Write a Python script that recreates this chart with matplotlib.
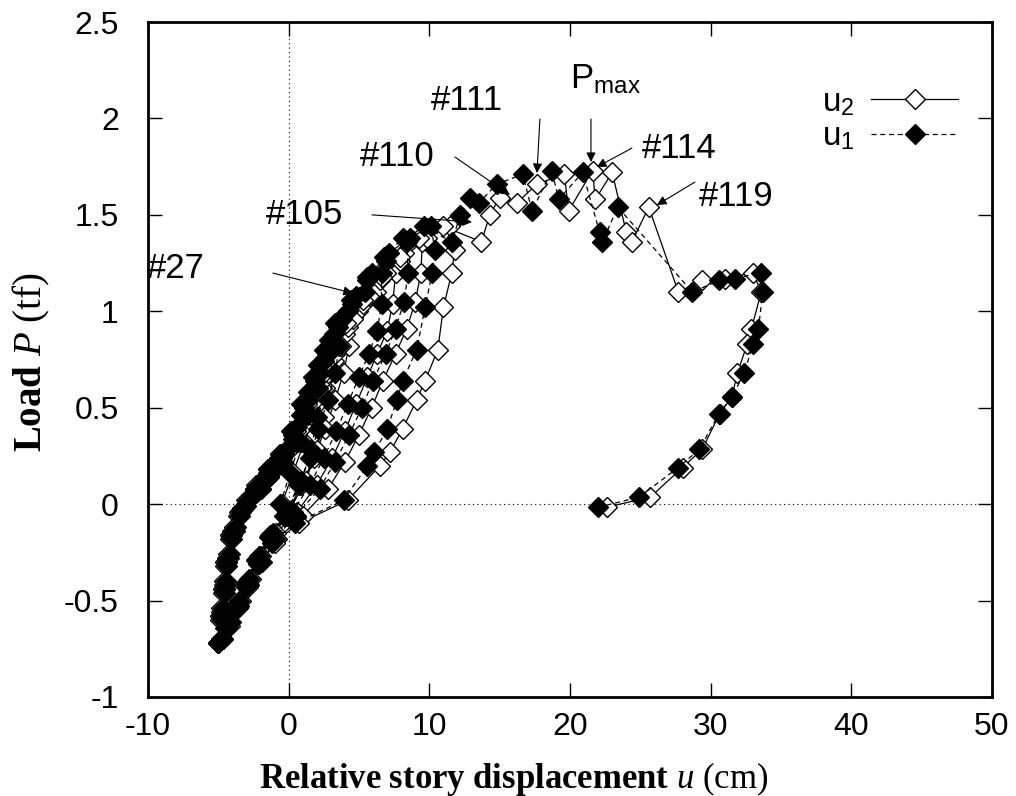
import matplotlib
matplotlib.use("Agg")
import matplotlib.pyplot as plt

plt.rcParams['font.family'] = ['Liberation Sans', 'DejaVu Sans']
plt.rcParams['axes.unicode_minus'] = False
plt.rcParams['mathtext.fontset'] = 'custom'
plt.rcParams['mathtext.rm'] = 'Liberation Sans'
plt.rcParams['mathtext.it'] = 'Liberation Serif:italic'
plt.rcParams['mathtext.bf'] = 'Liberation Serif:bold'

# ---------------- data (load P [tf], displacements u2 / u1 [cm]) ----------------
load_c1 = [0.00, 0.16, 0.32, 0.46, 0.60, 0.45, 0.28, 0.12, -0.04, -0.16, -0.29, -0.41, -0.52, -0.63, -0.72]
u2_c1 = [-0.5, 0.3, 1.1, 1.8, 2.6, 2.5, 2.0, 1.2, 0.0, -1.2, -2.2, -2.9, -3.6, -4.3, -5.0]
u1_c1 = [-0.6, 0.1, 0.8, 1.4, 2.1, 2.0, 1.6, 0.9, -0.1, -1.3, -2.3, -3.0, -3.7, -4.4, -5.0]

load_c2 = [-0.60, -0.46, -0.32, -0.18, -0.06, 0.02, 0.10, 0.18, 0.26, 0.34, 0.46, 0.58, 0.72, 0.85, 0.97,
           0.82, 0.68, 0.54, 0.39, 0.24, 0.10, -0.06, -0.17, -0.29, -0.41, -0.52, -0.62, -0.70]
u2_c2 = [-4.9, -4.7, -4.5, -4.2, -3.6, -3.0, -2.3, -1.5, -0.6, 0.4, 1.1, 1.8, 2.6, 3.5, 4.6,
         4.3, 3.9, 3.3, 2.6, 1.8, 0.9, -0.2, -1.3, -2.2, -2.9, -3.6, -4.3, -4.8]
u1_c2 = [-4.75, -4.55, -4.35, -4.05, -3.45, -2.9, -2.2, -1.5, -0.6, 0.3, 0.9, 1.4, 2.1, 2.9, 3.8,
         3.6, 3.3, 2.8, 2.1, 1.5, 0.7, -0.3, -1.4, -2.3, -3.0, -3.7, -4.4, -4.8]

load_c3 = [-0.56, -0.42, -0.28, -0.14, -0.02, 0.06, 0.14, 0.22, 0.32, 0.46, 0.60, 0.74, 0.88, 1.00, 1.10,
           1.20, 1.04, 0.90, 0.78, 0.66, 0.52, 0.38, 0.24, 0.10, -0.04, -0.15, -0.27, -0.39, -0.50, -0.61, -0.71]
u2_c3 = [-4.8, -4.6, -4.4, -4.0, -3.3, -2.4, -1.4, -0.4, 0.9, 1.6, 2.4, 3.2, 4.0, 4.9, 6.2,
         7.6, 7.4, 7.0, 6.3, 5.6, 4.8, 4.0, 3.1, 2.0, 0.6, -0.9, -2.0, -2.7, -3.4, -4.1, -4.9]
u1_c3 = [-4.65, -4.45, -4.25, -3.85, -3.2, -2.3, -1.4, -0.5, 0.6, 1.2, 1.8, 2.5, 3.2, 4.2, 5.4,
         6.6, 6.6, 6.3, 5.7, 5.0, 4.2, 3.4, 2.5, 1.5, 0.3, -1.1, -2.1, -2.8, -3.5, -4.2, -4.9]

load_c4 = [-0.58, -0.44, -0.30, -0.16, -0.04, 0.05, 0.14, 0.24, 0.36, 0.50, 0.64, 0.78, 0.92, 1.04, 1.16,
           1.26, 1.36, 1.20, 1.05, 0.91, 0.78, 0.64, 0.50, 0.36, 0.22, 0.08, -0.06, -0.18, -0.30, -0.42,
           -0.53, -0.63, -0.70]
u2_c4 = [-4.9, -4.7, -4.5, -4.2, -3.5, -2.6, -1.6, -0.5, 0.6, 1.5, 2.4, 3.3, 4.2, 5.3, 6.5,
         7.9, 9.5, 9.4, 9.0, 8.4, 7.6, 6.7, 5.9, 5.0, 4.0, 2.8, 1.0, -0.8, -1.9, -2.8,
         -3.5, -4.2, -4.7]
u1_c4 = [-4.75, -4.55, -4.35, -4.05, -3.4, -2.6, -1.7, -0.7, 0.3, 1.1, 1.9, 2.7, 3.5, 4.5, 5.6,
         6.9, 8.4, 8.5, 8.2, 7.6, 6.9, 6.0, 5.2, 4.3, 3.3, 2.2, 0.5, -1.0, -2.0, -2.9,
         -3.6, -4.3, -4.7]

load_c5 = [-0.54, -0.40, -0.26, -0.12, -0.01, 0.08, 0.18, 0.28, 0.40, 0.54, 0.68, 0.82, 0.96, 1.08, 1.20,
           1.30, 1.38, 1.44, 1.32, 1.20, 1.02, 0.80, 0.64, 0.54, 0.39, 0.27, 0.20, 0.02, -0.10, -0.20,
           -0.31, -0.43, -0.54, -0.64, -0.72]
u2_c5 = [-4.8, -4.6, -4.3, -3.9, -3.1, -2.0, -1.0, 0.0, 1.0, 1.9, 2.8, 3.7, 4.6, 5.7, 6.9,
         8.2, 9.8, 11.5, 11.8, 11.6, 11.0, 10.6, 9.7, 9.1, 8.1, 7.2, 6.5, 4.2, 0.7, -1.0,
         -2.1, -2.9, -3.6, -4.4, -5.0]
u1_c5 = [-4.65, -4.45, -4.15, -3.75, -3.0, -2.0, -1.1, -0.2, 0.6, 1.4, 2.2, 3.0, 3.8, 4.8, 5.9,
         7.1, 8.6, 10.1, 10.4, 10.2, 9.7, 9.1, 8.1, 7.7, 7.0, 6.1, 5.6, 3.9, 0.45, -1.2,
         -2.2, -3.0, -3.7, -4.5, -5.0]

load_c6 = [-0.58, -0.44, -0.30, -0.16, -0.03, 0.08, 0.16, 0.26, 0.38, 0.52, 0.66, 0.80, 0.94, 1.06, 1.18,
           1.28, 1.38, 1.44, 1.36, 1.50, 1.59, 1.56, 1.66, 1.71, 1.52, 1.73, 1.58, 1.72, 1.41, 1.36,
           1.54, 1.10, 1.16, 1.17, 1.20, 1.10, 0.91, 0.83, 0.68, 0.555, 0.47, 0.285, 0.19, 0.036, -0.016]
u2_c6 = [-4.9, -4.7, -4.5, -4.2, -3.4, -2.4, -1.4, -0.3, 0.5, 1.3, 2.2, 3.1, 4.1, 5.3, 6.6,
         7.9, 9.3, 11.0, 13.7, 14.3, 15.0, 16.2, 17.65, 19.6, 19.9, 21.6, 21.8, 23.0, 24.0, 24.4,
         25.6, 27.7, 29.4, 31.0, 33.0, 33.6, 32.9, 32.6, 31.9, 31.5, 30.65, 29.4, 28.0, 25.7, 22.6]
u1_c6 = [-4.75, -4.55, -4.35, -4.05, -3.3, -2.4, -1.5, -0.4, 0.2, 0.9, 1.7, 2.5, 3.3, 4.4, 5.6,
         6.8, 8.1, 9.6, 11.6, 12.2, 12.9, 13.5, 14.8, 16.65, 17.3, 18.7, 19.2, 20.9, 22.1, 22.3,
         23.4, 28.7, 30.6, 31.7, 33.6, 33.7, 33.4, 33.0, 32.4, 31.5, 30.6, 29.2, 27.7, 24.9, 22.0]

# annotation labels: (text, text position, arrow start, arrow tip) in data units
ann_labels = ['#27', '#105', '#110', '#111', '#114', '#119']
ann_text_xy = [(-8.0, 1.22), (1.16, 1.50), (7.7, 1.80), (12.67, 2.095), (27.74, 1.846), (31.79, 1.597)]
ann_start_xy = [(-1.12, 1.198), (5.92, 1.50), (11.82, 1.80), (17.86, 1.997), (24.40, 1.846), (28.88, 1.670)]
ann_tip_xy = [(4.57, 1.094), (13.03, 1.463), (15.73, 1.603), (17.65, 1.717), (21.91, 1.748), (26.18, 1.551)]
pmax_text_xy = (20.0, 2.20)
pmax_start_xy = (21.49, 1.997)
pmax_tip_xy = (21.49, 1.774)

xticks = [-10, 0, 10, 20, 30, 40, 50]
xtick_labels = ['-10', '0', '10', '20', '30', '40', '50']
yticks = [-1, -0.5, 0, 0.5, 1, 1.5, 2, 2.5]
ytick_labels = ['-1', '-0.5', '0', '0.5', '1', '1.5', '2', '2.5']

load = load_c1 + load_c2 + load_c3 + load_c4 + load_c5 + load_c6
u2 = u2_c1 + u2_c2 + u2_c3 + u2_c4 + u2_c5 + u2_c6
u1 = u1_c1 + u1_c2 + u1_c3 + u1_c4 + u1_c5 + u1_c6

# ---------------- figure ----------------
W, H = 1016, 796
fig = plt.figure(figsize=(W / 100, H / 100), dpi=100)
ax = fig.add_axes([148 / W, 1 - 697 / H, (992 - 148) / W, (697 - 22) / H])

ax.axhline(0, color='black', lw=0.8, ls=(0, (1, 3)), zorder=1)
ax.axvline(0, color='black', lw=0.8, ls=(0, (1, 3)), zorder=1)

l2, = ax.plot(u2, load, color='black', lw=0.9, ls='-', marker='D', ms=9.8,
              mfc='white', mec='black', mew=1.0, zorder=3)
l1, = ax.plot(u1, load, color='black', lw=0.9, ls=(0, (4, 3)), marker='D', ms=9.8,
              mfc='black', mec='black', mew=1.0, zorder=4)

ax.set_xlim(-10, 50)
ax.set_ylim(-1, 2.5)
ax.set_xticks(xticks, xtick_labels)
ax.set_yticks(yticks, ytick_labels)
ax.tick_params(direction='in', length=10, width=1, top=True, right=True,
               labelsize=23)
ax.tick_params(axis='y', pad=21)
ax.tick_params(axis='x', pad=11)
for s in ax.spines.values():
    s.set_linewidth(2)

ax.set_xlabel(r'$\mathbf{Relative\ story\ displacement}$ $\mathit{u}$ (cm)',
              family='Liberation Serif', fontsize=25)
ax.xaxis.set_label_coords((514 - 148) / 844, -(779 - 697) / 675)
ax.xaxis.label.set_va('center')
ax.set_ylabel(r'$\mathbf{Load}$ $\mathit{P}$ (tf)',
              family='Liberation Serif', fontsize=28)
ax.yaxis.set_label_coords((31 - 148) / 844, (697 - 362) / 675)
ax.yaxis.label.set_va('center')

arrow_kw = dict(arrowstyle='-|>', color='black', lw=0.8, mutation_scale=14,
                shrinkA=0, shrinkB=0)
for lab, txy, sxy, exy in zip(ann_labels, ann_text_xy, ann_start_xy, ann_tip_xy):
    ax.text(txy[0], txy[1], lab, fontsize=25, ha='center', va='center', zorder=6)
    ax.annotate('', xy=exy, xytext=sxy, arrowprops=arrow_kw, zorder=6)
ax.text(pmax_text_xy[0], pmax_text_xy[1], r'P$_{\mathrm{max}}$', fontsize=25,
        ha='left', va='center', zorder=6)
ax.annotate('', xy=pmax_tip_xy, xytext=pmax_start_xy, arrowprops=arrow_kw, zorder=6)

leg = ax.legend([l2, l1], [r'u$_{\mathrm{2}}$', r'u$_{\mathrm{1}}$'],
                loc='upper right', bbox_to_anchor=(958 / W, 1 - 87 / H),
                bbox_transform=fig.transFigure, frameon=False, markerfirst=False,
                fontsize=24, handlelength=2.6, handletextpad=0.5, labelspacing=0.1,
                borderaxespad=0, borderpad=0, numpoints=1)

fig.savefig('out.png', dpi=100)
